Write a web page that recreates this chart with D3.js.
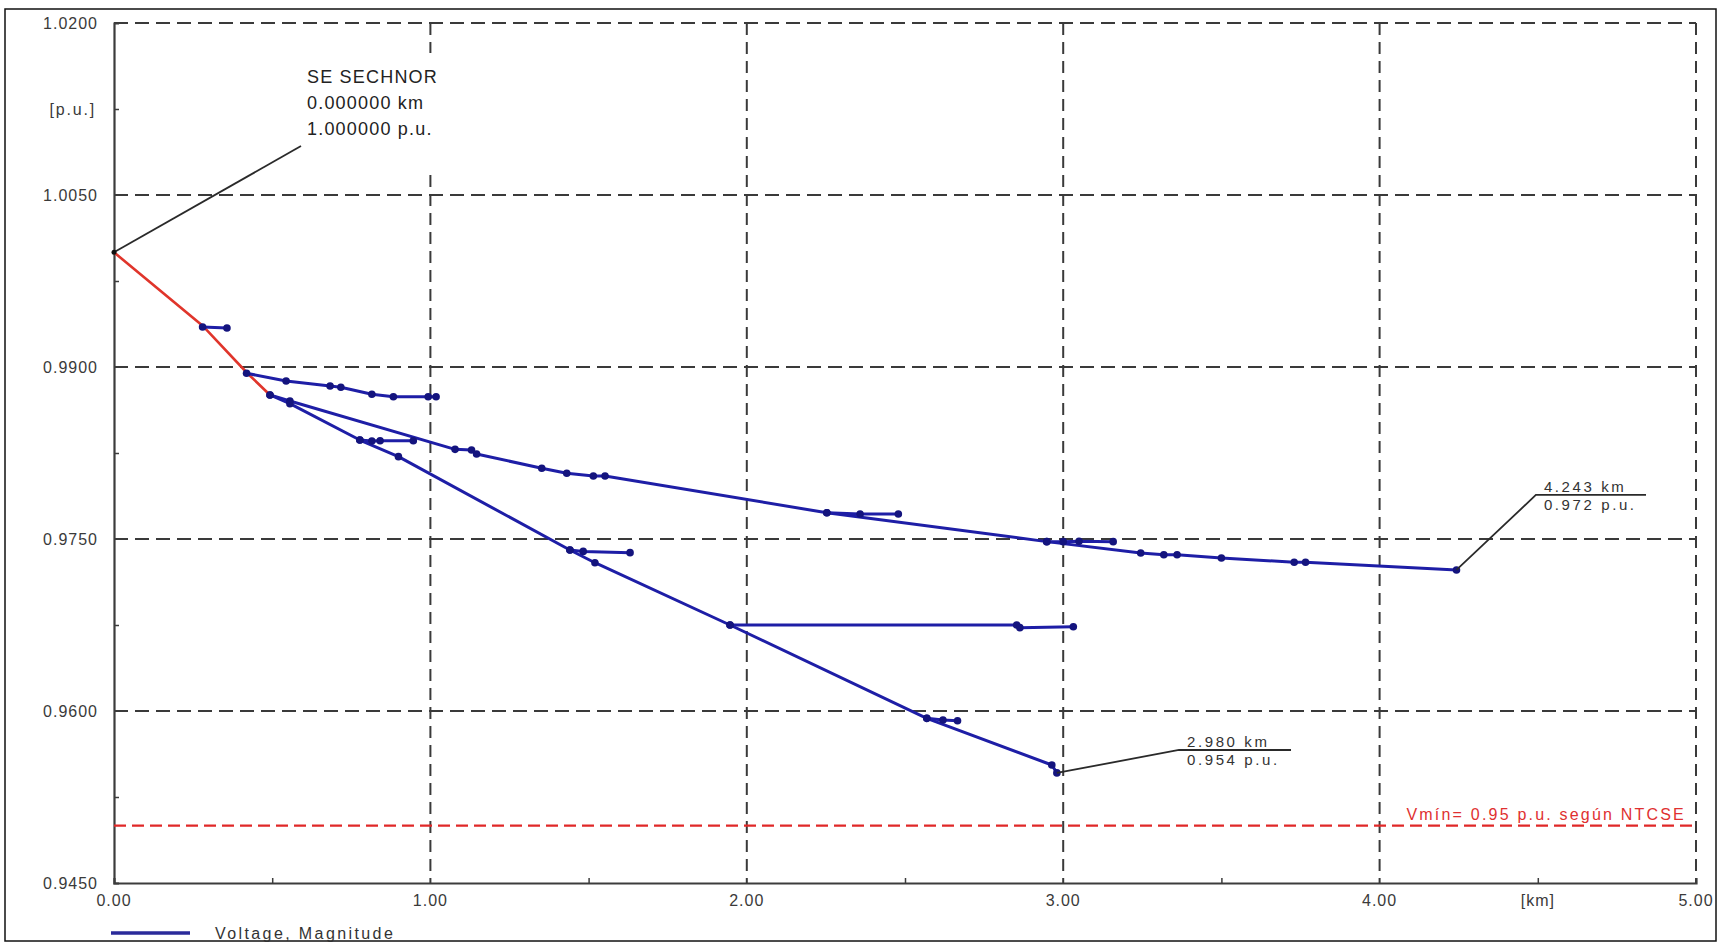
<!DOCTYPE html>
<html>
<head>
<meta charset="utf-8">
<script src="https://cdn.jsdelivr.net/npm/d3@7"></script>
<style>
  body { margin: 0; background: #fff; }
  text { font-family: "Liberation Sans", Arial, sans-serif; }
</style>
</head>
<body>
<div class="chart"></div>
<script>
// axis ticks
var xTicks = [0, 1, 2, 3, 4, 5];
var xTickLabels = ["0.00", "1.00", "2.00", "3.00", "4.00", "5.00"];
var xMinor = [0.5, 1.5, 2.5, 3.5, 4.5];
var yTicks = [1.02, 1.005, 0.99, 0.975, 0.96, 0.945];
var yTickLabels = ["1.0200", "1.0050", "0.9900", "0.9750", "0.9600", "0.9450"];
var yMinor = [1.0125, 0.9975, 0.9825, 0.9675, 0.9525];

// voltage profile [km, p.u.]
var feeder = [[0, 1.0000], [0.28, 0.9936], [0.42, 0.9895], [0.493, 0.98756]];
var branchA = [[0.28, 0.99349], [0.357, 0.9934]];
var branchB = [[0.419, 0.98945], [0.544, 0.98878], [0.683, 0.98834], [0.717, 0.98823], [0.815, 0.98762], [0.883, 0.98741], [0.993, 0.98741], [1.018, 0.98741]];
var upperPath = [[0.493, 0.98756], [0.556, 0.98704], [1.078, 0.98282], [1.13, 0.98276], [1.146, 0.98241], [1.352, 0.98117], [1.431, 0.98073], [1.515, 0.98049], [1.552, 0.98049], [2.253, 0.97729], [2.948, 0.97477], [3.245, 0.97378], [3.318, 0.97363], [3.36, 0.97363], [3.5, 0.97334], [3.73, 0.97297], [3.766, 0.97297], [4.243, 0.9723]];
var lowerPath = [[0.493, 0.98756], [0.556, 0.9868], [0.777, 0.98363], [0.899, 0.98218], [1.441, 0.97404], [1.52, 0.97293], [1.947, 0.9675], [2.569, 0.95936], [2.964, 0.95529], [2.98, 0.9546]];
var branchC = [[0.777, 0.98363], [0.815, 0.98355], [0.841, 0.98357], [0.946, 0.98357]];
var branchD = [[1.441, 0.97404], [1.483, 0.97392], [1.631, 0.97381]];
var branchE = [[2.253, 0.97729], [2.358, 0.97718], [2.479, 0.97718]];
var branchF = [[2.948, 0.97477], [3.0, 0.97477], [3.05, 0.9748], [3.158, 0.97477]];
var branchG = [[1.947, 0.9675], [2.853, 0.9675], [2.863, 0.96727], [3.032, 0.96735]];
var branchH = [[2.569, 0.95936], [2.62, 0.95922], [2.666, 0.95915]];
var blueBranches = [branchA, branchB, upperPath, lowerPath, branchC, branchD, branchE, branchF, branchG, branchH];

var vMin = 0.95;
var vMinLabel = "Vmín= 0.95 p.u. según NTCSE";

// annotations: point, elbow, line end, label lines
var sourceNote = { pt: [0, 1.0], elbow: [0.591, 1.00927], lines: ["SE SECHNOR", "0.000000 km", "1.000000 p.u."] };
var farNotes = [
  { pt: [4.243, 0.9723], elbow: [4.494, 0.97884], end: [4.842, 0.97884], lines: ["4.243 km", "0.972 p.u."] },
  { pt: [2.98, 0.9546], elbow: [3.366, 0.9566], end: [3.72, 0.9566], lines: ["2.980 km", "0.954 p.u."] }
];

var svgWidth = 1717;
var svgHeight = 944;
var margin = { top: 23, right: 21, bottom: 61, left: 114 };
var width = svgWidth - margin.left - margin.right;
var height = svgHeight - margin.top - margin.bottom;

var svg = d3.select(".chart")
  .append("svg")
  .attr("width", svgWidth)
  .attr("height", svgHeight);

svg.append("rect")
  .attr("x", 5).attr("y", 9)
  .attr("width", 1711).attr("height", 932)
  .attr("fill", "#fff")
  .attr("stroke", "#111")
  .attr("stroke-width", 1.5);

var x = d3.scaleLinear().domain([0, 5]).range([margin.left, margin.left + width]);
var y = d3.scaleLinear().domain([0.945, 1.02]).range([margin.top + height, margin.top]);

var gridColor = "#3a3a3a";

// grid
svg.append("g").selectAll("line")
  .data(yTicks.slice(0, -1))
  .enter().append("line")
  .attr("x1", x(0)).attr("x2", x(5))
  .attr("y1", d => y(d)).attr("y2", d => y(d))
  .attr("stroke", gridColor).attr("stroke-width", 2)
  .attr("stroke-dasharray", "14,7");

svg.append("g").selectAll("line")
  .data(xTicks.slice(1))
  .enter().append("line")
  .attr("x1", d => x(d)).attr("x2", d => x(d))
  .attr("y1", y(1.02)).attr("y2", y(0.945))
  .attr("stroke", gridColor).attr("stroke-width", 2)
  .attr("stroke-dasharray", "12,7");

// axes
var bottomAxis = d3.axisBottom(x).tickValues(xMinor).tickSize(-5).tickFormat("");
var leftAxis = d3.axisLeft(y).tickValues(yMinor).tickSize(-5).tickFormat("");

var xAxisG = svg.append("g")
  .attr("transform", `translate(0, ${y(0.945)})`)
  .call(bottomAxis);
var yAxisG = svg.append("g")
  .attr("transform", `translate(${x(0)}, 0)`)
  .call(leftAxis);
[xAxisG, yAxisG].forEach(function(g) {
  g.select(".domain").attr("stroke", "#3c3c3c").attr("stroke-width", 2.2);
  g.selectAll(".tick line").attr("stroke", "#3c3c3c").attr("stroke-width", 1.5);
});

svg.append("g").selectAll("text")
  .data(yTicks)
  .enter().append("text")
  .attr("x", x(0) - 16)
  .attr("y", d => y(d))
  .attr("dy", "0.35em")
  .attr("text-anchor", "end")
  .attr("font-size", 16)
  .attr("letter-spacing", 1)
  .attr("fill", "#3a3a3a")
  .text((d, i) => yTickLabels[i]);

svg.append("text")
  .attr("x", x(0) - 18)
  .attr("y", y(1.0125))
  .attr("dy", "0.35em")
  .attr("text-anchor", "end")
  .attr("font-size", 16)
  .attr("letter-spacing", 1.8)
  .attr("fill", "#3a3a3a")
  .text("[p.u.]");

svg.append("g").selectAll("text")
  .data(xTicks)
  .enter().append("text")
  .attr("x", d => x(d))
  .attr("y", y(0.945) + 23)
  .attr("text-anchor", "middle")
  .attr("font-size", 16)
  .attr("letter-spacing", 1)
  .attr("fill", "#3a3a3a")
  .text((d, i) => xTickLabels[i]);

svg.append("text")
  .attr("x", x(4.5))
  .attr("y", y(0.945) + 23)
  .attr("text-anchor", "middle")
  .attr("font-size", 16)
  .attr("letter-spacing", 1)
  .attr("fill", "#3a3a3a")
  .text("[km]");

// Vmin limit
svg.append("line")
  .attr("x1", x(0)).attr("x2", x(5))
  .attr("y1", y(vMin)).attr("y2", y(vMin))
  .attr("stroke", "#e02828").attr("stroke-width", 2.4)
  .attr("stroke-dasharray", "12,6");

svg.append("text")
  .attr("x", x(5) - 10)
  .attr("y", y(vMin) - 6)
  .attr("text-anchor", "end")
  .attr("font-size", 16)
  .attr("letter-spacing", 2.2)
  .attr("fill", "#e03030")
  .text(vMinLabel);

// profile lines
var line = d3.line().x(d => x(d[0])).y(d => y(d[1]));

svg.append("path")
  .datum(feeder)
  .attr("d", line)
  .attr("fill", "none")
  .attr("stroke", "#e0352b")
  .attr("stroke-width", 2.6);

var blue = "#1e1ea6";
svg.append("g").selectAll("path")
  .data(blueBranches)
  .enter().append("path")
  .attr("d", line)
  .attr("fill", "none")
  .attr("stroke", blue)
  .attr("stroke-width", 3)
  .attr("stroke-linejoin", "round");

svg.append("g").selectAll("circle")
  .data(blueBranches.flat())
  .enter().append("circle")
  .attr("cx", d => x(d[0]))
  .attr("cy", d => y(d[1]))
  .attr("r", 3.8)
  .attr("fill", "#14147e");

// source annotation
var noteG = svg.append("g");
noteG.append("rect")
  .attr("x", x(0.575)).attr("y", 53)
  .attr("width", 150).attr("height", 119)
  .attr("fill", "#fff");
noteG.append("line")
  .attr("x1", x(sourceNote.pt[0])).attr("y1", y(sourceNote.pt[1]))
  .attr("x2", x(sourceNote.elbow[0])).attr("y2", y(sourceNote.elbow[1]))
  .attr("stroke", "#2a2a2a").attr("stroke-width", 1.8);
noteG.append("circle")
  .attr("cx", x(sourceNote.pt[0])).attr("cy", y(sourceNote.pt[1]))
  .attr("r", 2.5).attr("fill", "#111");
noteG.selectAll("text")
  .data(sourceNote.lines)
  .enter().append("text")
  .attr("x", x(sourceNote.elbow[0]) + 6)
  .attr("y", (d, i) => 83 + i * 26)
  .attr("font-size", 18)
  .attr("letter-spacing", 1.2)
  .attr("fill", "#222")
  .text(d => d);

// end-point annotations
farNotes.forEach(function(n) {
  var g = svg.append("g");
  g.append("polyline")
    .attr("points", [n.pt, n.elbow, n.end].map(p => x(p[0]) + "," + y(p[1])).join(" "))
    .attr("fill", "none")
    .attr("stroke", "#2a2a2a")
    .attr("stroke-width", 1.8);
  g.append("text")
    .attr("x", x(n.elbow[0]) + 8)
    .attr("y", y(n.elbow[1]) - 3)
    .attr("font-size", 15)
    .attr("letter-spacing", 2.6)
    .attr("fill", "#333")
    .text(n.lines[0]);
  g.append("text")
    .attr("x", x(n.elbow[0]) + 8)
    .attr("y", y(n.elbow[1]) + 15)
    .attr("font-size", 15)
    .attr("letter-spacing", 2.6)
    .attr("fill", "#333")
    .text(n.lines[1]);
});

// legend
svg.append("line")
  .attr("x1", 111).attr("x2", 190)
  .attr("y1", 933).attr("y2", 933)
  .attr("stroke", "#2a2a9a").attr("stroke-width", 3.5);
svg.append("text")
  .attr("x", 215)
  .attr("y", 933)
  .attr("dy", "0.35em")
  .attr("font-size", 16)
  .attr("letter-spacing", 2.4)
  .attr("fill", "#333")
  .text("Voltage, Magnitude");
</script>
</body>
</html>
